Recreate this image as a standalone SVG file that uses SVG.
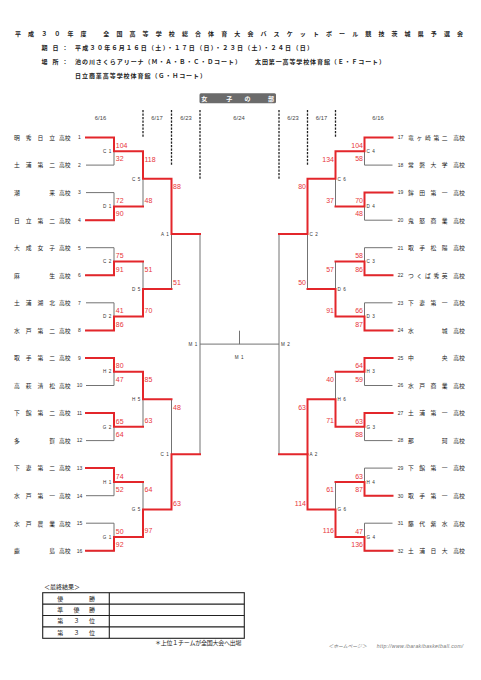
<svg xmlns="http://www.w3.org/2000/svg" width="481" height="680" viewBox="0 0 481 680">
<style>
.r{stroke:#e3262b;stroke-width:2;fill:none;stroke-linejoin:miter;stroke-linecap:square}
.g{stroke:#737373;stroke-width:1;fill:none}
.d{stroke:#222;stroke-width:1.3;stroke-dasharray:2.2 1.3;fill:none}
.s{font-family:"Liberation Sans",Arial,sans-serif;font-size:7px;fill:#e8353a}
.e{text-anchor:end}
.ml{font-family:"Liberation Sans",Arial,sans-serif;font-size:4.6px;fill:#333;letter-spacing:0.6px}
.tn{font-family:"Liberation Sans",Arial,sans-serif;font-size:5px;fill:#333;text-anchor:middle}
.nm{font-family:"Liberation Sans","Noto Sans CJK JP",sans-serif;font-size:5.8px;fill:#222}
.hd{font-family:"Liberation Sans","Noto Sans CJK JP",sans-serif;font-weight:bold;fill:#222}
.dt{font-family:"Liberation Sans",Arial,sans-serif;font-size:5.8px;fill:#444;text-anchor:middle}
.tb{font-family:"Liberation Sans","Noto Sans CJK JP",sans-serif;font-size:6px;fill:#222}
</style>

<g id="header">
<text class="hd" x="15" y="35.5" font-size="6" letter-spacing="7.1">平成３０年度</text>
<text class="hd" x="103.3" y="35.5" font-size="6" letter-spacing="7.1">全国高等学校総合体育大会バスケットボール競技茨城県予選会</text>
<text class="hd" x="41.5 52.5 62" y="49.5" font-size="6">期日：</text>
<text class="hd" x="75" y="49.5" font-size="6" textLength="238" lengthAdjust="spacing">平成３０年６月１６日（土）・１７日（日）・２３日（土）・２４日（日）</text>
<text class="hd" x="41.5 52.5 62" y="63.5" font-size="6">場所：</text>
<text class="hd" x="75" y="63.5" font-size="6" textLength="166" lengthAdjust="spacing">池の川さくらアリーナ（Ｍ・Ａ・Ｂ・Ｃ・Ｄコート）</text>
<text class="hd" x="255" y="63.5" font-size="6" textLength="130" lengthAdjust="spacing">太田第一高等学校体育館（Ｅ・Ｆコート）</text>
<text class="hd" x="75" y="77.5" font-size="6" textLength="131" lengthAdjust="spacing">日立商業高等学校体育館（Ｇ・Ｈコート）</text>
</g>

<g id="division">
<rect x="199.5" y="93.3" width="76.5" height="10" rx="1.5" fill="#6b6b6b"/>
<text x="201.3 226.2 244.5 268" y="101" font-family="'Noto Sans CJK JP',sans-serif" font-weight="bold" font-size="6" fill="#fff">女子の部</text>
</g>

<g id="dates">
<text class="dt" x="100.5" y="119.5">6/16</text>
<text class="dt" x="157" y="119.5">6/17</text>
<text class="dt" x="186" y="119.5">6/23</text>
<text class="dt" x="239" y="119.5">6/24</text>
<text class="dt" x="293" y="119.5">6/23</text>
<text class="dt" x="321.5" y="119.5">6/17</text>
<text class="dt" x="378" y="119.5">6/16</text>
<path class="d" d="M143 110V137.5M171.5 110V165.7M200 110V179M279 110V179M307.5 110V165.7M335.5 110V137.5"/>
</g>

<g id="connectors">
<path class="g" d="M86 137.5H114V165.1H86M86 192.6H114V220.2H86M86 247.7H114V275.3H86M86 302.8H114V330.4H86M86 357.9H114V385.5H86M86 413H114V440.6H86M86 468.1H114V495.7H86M86 523.2H114V550.8H86
M143 151.3V206.4M143 261.5V316.6M143 371.7V426.8M143 481.9V537
M171.5 178.8V289M171.5 399.2V509.4M200 233.9V454.3
M200 344.1H279M239.5 330.7V344.1
M392.5 137.5H364.5V165.1H392.5M392.5 192.6H364.5V220.2H392.5M392.5 247.7H364.5V275.3H392.5M392.5 302.8H364.5V330.4H392.5M392.5 357.9H364.5V385.5H392.5M392.5 413H364.5V440.6H392.5M392.5 468.1H364.5V495.7H392.5M392.5 523.2H364.5V550.8H392.5
M335.5 151.3V206.4M335.5 261.5V316.6M335.5 371.7V426.8M335.5 481.9V537
M307.5 178.8V289M307.5 399.2V509.4M279 233.9V454.3"/>
<path class="r" d="M86 137.5H114V151.3H143V178.8H171.5V233.9H200"/>
<path class="r" d="M86 220.2H114V206.4H143"/>
<path class="r" d="M86 275.3H114V261.5H143"/>
<path class="r" d="M86 330.4H114V316.6H143V289H171.5"/>
<path class="r" d="M86 357.9H114V371.7H143V399.2H171.5"/>
<path class="r" d="M86 413H114V426.8H143"/>
<path class="r" d="M86 468.1H114V481.9H143"/>
<path class="r" d="M86 550.8H114V537H143V509.4H171.5V454.3H200"/>
<path class="r" d="M392.5 137.5H364.5V151.3H335.5V178.8H307.5V233.9H279"/>
<path class="r" d="M392.5 192.6H364.5V206.4H335.5"/>
<path class="r" d="M392.5 275.3H364.5V261.5H335.5"/>
<path class="r" d="M392.5 330.4H364.5V316.6H335.5V289H307.5"/>
<path class="r" d="M392.5 357.9H364.5V371.7H335.5"/>
<path class="r" d="M392.5 413H364.5V426.8H335.5V399.2H307.5V454.3"/>
<path class="r" d="M392.5 495.7H364.5V481.9H335.5"/>
<path class="r" d="M392.5 550.8H364.5V537H335.5V509.4H307.5V454.3H279"/>
</g>

<g id="scores">
<text class="s" x="115.8" y="148">104</text><text class="s" x="115.8" y="161.3">32</text>
<text class="s" x="115.8" y="203.1">72</text><text class="s" x="115.8" y="216.4">90</text>
<text class="s" x="115.8" y="258.2">75</text><text class="s" x="115.8" y="271.5">91</text>
<text class="s" x="115.8" y="313.3">41</text><text class="s" x="115.8" y="326.6">86</text>
<text class="s" x="115.8" y="368.4">80</text><text class="s" x="115.8" y="381.7">47</text>
<text class="s" x="115.8" y="423.5">65</text><text class="s" x="115.8" y="436.8">64</text>
<text class="s" x="115.8" y="478.6">74</text><text class="s" x="115.8" y="491.9">52</text>
<text class="s" x="115.8" y="533.7">50</text><text class="s" x="115.8" y="547">92</text>
<text class="s" x="144.5" y="161.8">118</text><text class="s" x="144.5" y="202.6">48</text>
<text class="s" x="144.5" y="272">51</text><text class="s" x="144.5" y="312.8">70</text>
<text class="s" x="144.5" y="382.2">85</text><text class="s" x="144.5" y="423">63</text>
<text class="s" x="144.5" y="492.4">64</text><text class="s" x="144.5" y="533.2">97</text>
<text class="s" x="173" y="189.3">88</text><text class="s" x="173" y="285.2">51</text>
<text class="s" x="173" y="409.7">48</text><text class="s" x="173" y="505.6">63</text>
<text class="s e" x="363" y="148">104</text><text class="s e" x="363" y="161.3">58</text>
<text class="s e" x="363" y="203.1">70</text><text class="s e" x="363" y="216.4">48</text>
<text class="s e" x="363" y="258.2">58</text><text class="s e" x="363" y="271.5">86</text>
<text class="s e" x="363" y="313.3">66</text><text class="s e" x="363" y="326.6">87</text>
<text class="s e" x="363" y="368.4">64</text><text class="s e" x="363" y="381.7">59</text>
<text class="s e" x="363" y="423.5">63</text><text class="s e" x="363" y="436.8">88</text>
<text class="s e" x="363" y="478.6">63</text><text class="s e" x="363" y="491.9">87</text>
<text class="s e" x="363" y="533.7">47</text><text class="s e" x="363" y="547">136</text>
<text class="s e" x="334" y="161.8">134</text><text class="s e" x="334" y="202.6">37</text>
<text class="s e" x="334" y="272">57</text><text class="s e" x="334" y="312.8">91</text>
<text class="s e" x="334" y="382.2">40</text><text class="s e" x="334" y="423">71</text>
<text class="s e" x="334" y="492.4">61</text><text class="s e" x="334" y="533.2">116</text>
<text class="s e" x="306" y="189.3">80</text><text class="s e" x="306" y="285.2">50</text>
<text class="s e" x="306" y="409.7">63</text><text class="s e" x="306" y="505.6">114</text>
</g>

<g id="match-labels">
<text class="ml e" x="112" y="153">C 1</text><text class="ml e" x="112" y="208.1">D 1</text>
<text class="ml e" x="112" y="263.2">C 2</text><text class="ml e" x="112" y="318.3">D 2</text>
<text class="ml e" x="112" y="373.4">H 2</text><text class="ml e" x="112" y="428.5">G 2</text>
<text class="ml e" x="112" y="483.6">H 1</text><text class="ml e" x="112" y="538.7">G 1</text>
<text class="ml e" x="141" y="180.5">C 5</text><text class="ml e" x="141" y="290.7">D 5</text>
<text class="ml e" x="141" y="400.9">H 5</text><text class="ml e" x="141" y="511.1">G 5</text>
<text class="ml e" x="169.5" y="235.6">A 1</text><text class="ml e" x="169.5" y="456">C 1</text>
<text class="ml e" x="198" y="345.8">M 1</text>
<text class="ml" x="366.5" y="153">C 4</text><text class="ml" x="366.5" y="208.1">D 4</text>
<text class="ml" x="366.5" y="263.2">C 3</text><text class="ml" x="366.5" y="318.3">D 3</text>
<text class="ml" x="366.5" y="373.4">H 3</text><text class="ml" x="366.5" y="428.5">G 3</text>
<text class="ml" x="366.5" y="483.6">H 4</text><text class="ml" x="366.5" y="538.7">G 4</text>
<text class="ml" x="337.5" y="180.5">C 6</text><text class="ml" x="337.5" y="290.7">D 6</text>
<text class="ml" x="337.5" y="400.9">H 6</text><text class="ml" x="337.5" y="511.1">G 6</text>
<text class="ml" x="309.5" y="235.6">C 2</text><text class="ml" x="309.5" y="456">A 2</text>
<text class="ml" x="281" y="345.8">M 2</text>
<text class="ml" x="239.5" y="359" text-anchor="middle">M 1</text>
</g>

<g id="team-1"><text class="nm" x="14.1 25.8 37.6 49.3 59 64.8" y="139.8">明秀日立高校</text><text class="tn" x="79.5" y="139.3">1</text></g>
<g id="team-2"><text class="nm" x="14.1 25.8 37.6 49.3 59 64.8" y="167.4">土浦第二高校</text><text class="tn" x="79.5" y="166.9">2</text></g>
<g id="team-3"><text class="nm" x="14.1 49.3 59 64.8" y="194.9">潮来高校</text><text class="tn" x="79.5" y="194.4">3</text></g>
<g id="team-4"><text class="nm" x="14.1 25.8 37.6 49.3 59 64.8" y="222.5">日立第二高校</text><text class="tn" x="79.5" y="222">4</text></g>
<g id="team-5"><text class="nm" x="14.1 25.8 37.6 49.3 59 64.8" y="250">大成女子高校</text><text class="tn" x="79.5" y="249.5">5</text></g>
<g id="team-6"><text class="nm" x="14.1 49.3 59 64.8" y="277.6">麻生高校</text><text class="tn" x="79.5" y="277.1">6</text></g>
<g id="team-7"><text class="nm" x="14.1 25.8 37.6 49.3 59 64.8" y="305.1">土浦湖北高校</text><text class="tn" x="79.5" y="304.6">7</text></g>
<g id="team-8"><text class="nm" x="14.1 25.8 37.6 49.3 59 64.8" y="332.7">水戸第二高校</text><text class="tn" x="79.5" y="332.2">8</text></g>
<g id="team-9"><text class="nm" x="14.1 25.8 37.6 49.3 59 64.8" y="360.2">取手第二高校</text><text class="tn" x="79.5" y="359.7">9</text></g>
<g id="team-10"><text class="nm" x="14.1 25.8 37.6 49.3 59 64.8" y="387.8">高萩清松高校</text><text class="tn" x="79.5" y="387.3">10</text></g>
<g id="team-11"><text class="nm" x="14.1 25.8 37.6 49.3 59 64.8" y="415.3">下館第二高校</text><text class="tn" x="79.5" y="414.8">11</text></g>
<g id="team-12"><text class="nm" x="14.1 49.3 59 64.8" y="442.9">多賀高校</text><text class="tn" x="79.5" y="442.4">12</text></g>
<g id="team-13"><text class="nm" x="14.1 25.8 37.6 49.3 59 64.8" y="470.4">下妻第二高校</text><text class="tn" x="79.5" y="469.9">13</text></g>
<g id="team-14"><text class="nm" x="14.1 25.8 37.6 49.3 59 64.8" y="498">水戸第一高校</text><text class="tn" x="79.5" y="497.5">14</text></g>
<g id="team-15"><text class="nm" x="14.1 25.8 37.6 49.3 59 64.8" y="525.5">水戸農業高校</text><text class="tn" x="79.5" y="525">15</text></g>
<g id="team-16"><text class="nm" x="14.1 49.3 59 64.8" y="553.1">鹿島高校</text><text class="tn" x="79.5" y="552.6">16</text></g>

<g id="team-17"><text class="tn" x="400.5" y="139.3">17</text><text class="nm" x="408.1 416.5 424.9 433.4 441.8 453.3 459.1" y="139.8">竜ヶ崎第二高校</text></g>
<g id="team-18"><text class="tn" x="400.5" y="166.9">18</text><text class="nm" x="408.1 419.3 430.6 441.8 453.3 459.1" y="167.4">常磐大学高校</text></g>
<g id="team-19"><text class="tn" x="400.5" y="194.4">19</text><text class="nm" x="408.1 419.3 430.6 441.8 453.3 459.1" y="194.9">鉾田第一高校</text></g>
<g id="team-20"><text class="tn" x="400.5" y="222">20</text><text class="nm" x="408.1 419.3 430.6 441.8 453.3 459.1" y="222.5">鬼怒商業高校</text></g>
<g id="team-21"><text class="tn" x="400.5" y="249.5">21</text><text class="nm" x="408.1 419.3 430.6 441.8 453.3 459.1" y="250">取手松陽高校</text></g>
<g id="team-22"><text class="tn" x="400.5" y="277.1">22</text><text class="nm" x="408.1 416.5 424.9 433.4 441.8 453.3 459.1" y="277.6">つくば秀英高校</text></g>
<g id="team-23"><text class="tn" x="400.5" y="304.6">23</text><text class="nm" x="408.1 419.3 430.6 441.8 453.3 459.1" y="305.1">下妻第一高校</text></g>
<g id="team-24"><text class="tn" x="400.5" y="332.2">24</text><text class="nm" x="408.1 441.8 453.3 459.1" y="332.7">水城高校</text></g>
<g id="team-25"><text class="tn" x="400.5" y="359.7">25</text><text class="nm" x="408.1 441.8 453.3 459.1" y="360.2">中央高校</text></g>
<g id="team-26"><text class="tn" x="400.5" y="387.3">26</text><text class="nm" x="408.1 419.3 430.6 441.8 453.3 459.1" y="387.8">水戸商業高校</text></g>
<g id="team-27"><text class="tn" x="400.5" y="414.8">27</text><text class="nm" x="408.1 419.3 430.6 441.8 453.3 459.1" y="415.3">土浦第一高校</text></g>
<g id="team-28"><text class="tn" x="400.5" y="442.4">28</text><text class="nm" x="408.1 441.8 453.3 459.1" y="442.9">那珂高校</text></g>
<g id="team-29"><text class="tn" x="400.5" y="469.9">29</text><text class="nm" x="408.1 419.3 430.6 441.8 453.3 459.1" y="470.4">下館第一高校</text></g>
<g id="team-30"><text class="tn" x="400.5" y="497.5">30</text><text class="nm" x="408.1 419.3 430.6 441.8 453.3 459.1" y="498">取手第一高校</text></g>
<g id="team-31"><text class="tn" x="400.5" y="525">31</text><text class="nm" x="408.1 419.3 430.6 441.8 453.3 459.1" y="525.5">藤代紫水高校</text></g>
<g id="team-32"><text class="tn" x="400.5" y="552.6">32</text><text class="nm" x="408.1 419.3 430.6 441.8 453.3 459.1" y="553.1">土浦日大高校</text></g>

<g id="results">
<text class="tb" x="44" y="588.5">＜最終結果＞</text>
<rect x="42.7" y="592.7" width="201.6" height="45.6" fill="none" stroke="#222" stroke-width="1.1"/>
<path d="M42.7 604.1H244.3M42.7 615.5H244.3M42.7 626.9H244.3M109.3 592.7V638.3" stroke="#222" stroke-width="1.1" fill="none"/>
<text class="tb" x="57.3 89" y="600.6">優勝</text>
<text class="tb" x="57.3 73.5 89" y="612">準優勝</text>
<text class="tb" x="57.3 73.5 89" y="623.4">第３位</text>
<text class="tb" x="57.3 73.5 89" y="634.8">第３位</text>
<text class="tb" x="155" y="645" font-size="5.2" textLength="86.5" lengthAdjust="spacing">＊上位１チームが全国大会へ出場</text>
</g>

<g id="footer">
<text x="328.3" y="648" font-family="'Liberation Sans','Noto Sans CJK JP',sans-serif" font-size="4.8" font-style="italic" fill="#777" textLength="38.4" lengthAdjust="spacing">＜ホームページ＞</text>
<text x="376.7" y="648" font-family="'Liberation Sans',Arial,sans-serif" font-size="5.2" font-style="italic" fill="#777" textLength="86.6" lengthAdjust="spacing">http://www.ibarakibasketball.com/</text>
</g>
</svg>
